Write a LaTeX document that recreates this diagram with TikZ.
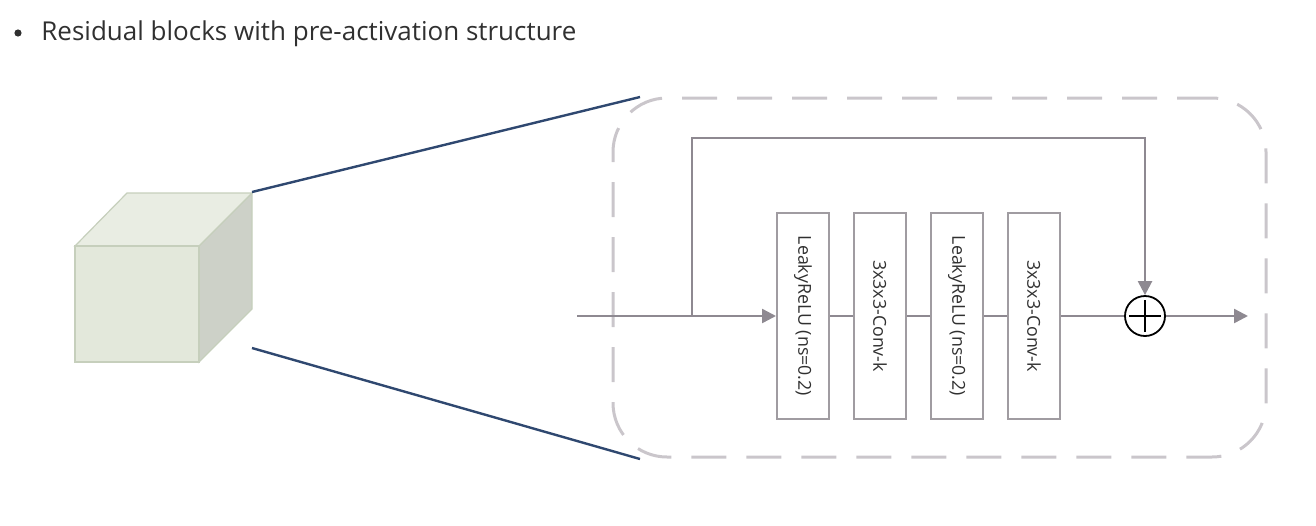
\documentclass[tikz,border=0pt]{standalone}
\usepackage{fontspec}
\usepackage{graphicx}
\setmainfont{Open Sans}
\usetikzlibrary{arrows.meta}
\definecolor{cubefront}{HTML}{E3E8DB}
\definecolor{cubetop}{HTML}{E9EDE3}
\definecolor{cubeside}{HTML}{CDD1C8}
\definecolor{cubeedge}{HTML}{C6CFBC}
\definecolor{zoomnavy}{HTML}{2F4870}
\definecolor{flowgray}{HTML}{8E8991}
\definecolor{framegray}{HTML}{CAC6CB}
\definecolor{blockgray}{HTML}{A09CA1}
\definecolor{textgray}{HTML}{303030}
\begin{document}
\begin{tikzpicture}[x=0.5pt,y=-0.5pt]
    \tikzstyle{block}=[draw=blockgray,line width=1pt,minimum width=26pt,minimum height=103pt,inner sep=0pt,text=textgray,font=\fontsize{8.9}{10}\selectfont]
    \tikzstyle{flow}=[draw=flowgray,line width=1.2pt]
    \tikzstyle{tip}=[-{Triangle[length=7pt,width=7pt]}]
    \tikzstyle{zoomline}=[draw=zoomnavy,line width=1.2pt]
    \useasboundingbox (0,0) rectangle (1316,525);
    % title
    \node[circle,fill=textgray,inner sep=0pt,minimum size=3.6pt] (dot) at (18,33) {};
    \node[anchor=base west,inner sep=0pt,text=textgray,font=\fontsize{13}{15}\selectfont] (title) at (41,40) {Residual blocks with pre-activation structure};
    % cube
    \fill[cubeside,draw=cubeedge,line width=0.6pt] (199,246) -- (252,193) -- (252,309) -- (199,362) -- cycle;
    \fill[cubetop,draw=cubeedge,line width=0.6pt] (75,246) -- (127,193) -- (252,193) -- (199,246) -- cycle;
    \fill[cubefront,draw=cubeedge,line width=0.6pt] (75,246) rectangle (199,362);
    \coordinate (cubeA) at (252,192);
    \coordinate (cubeB) at (252,348);
    % zoomed frame
    \node[draw=framegray,line width=1.5pt,dash pattern=on 17.5pt off 10pt,rounded corners=27pt,minimum width=326.5pt,minimum height=179.5pt] (frame) at (939.5,277.5) {};
    \coordinate (frameA) at (640,97);
    \coordinate (frameB) at (640,459);
    \draw[zoomline] (cubeA) -- (frameA);
    \draw[zoomline] (cubeB) -- (frameB);
    % residual block
    \node[block] (blk1) at (803,316) {\rotatebox{-90}{LeakyReLU (ns=0.2)}};
    \node[block] (blk2) at (880,316) {\rotatebox{-90}{3x3x3-Conv-k}};
    \node[block] (blk3) at (957,316) {\rotatebox{-90}{LeakyReLU (ns=0.2)}};
    \node[block] (blk4) at (1034,316) {\rotatebox{-90}{3x3x3-Conv-k}};
    \node[circle,draw=black,line width=0.9pt,minimum size=20pt,inner sep=0pt] (sum) at (1145,316) {};
    \draw[line width=0.9pt,shorten <=2.5pt,shorten >=2.5pt] (sum.north) -- (sum.south);
    \draw[line width=0.9pt,shorten <=2.5pt,shorten >=2.5pt] (sum.west) -- (sum.east);
    \coordinate (in) at (577,316);
    \coordinate (split) at (692,316);
    \coordinate (out) at (1248,316);
    \draw[flow,tip] (in) -- (blk1.west);
    \draw[flow] (blk1.east) -- (blk2.west);
    \draw[flow] (blk2.east) -- (blk3.west);
    \draw[flow] (blk3.east) -- (blk4.west);
    \draw[flow] (blk4.east) -- (sum.west);
    \draw[flow,tip] (split) -- ++(0,-178) -| (sum.north);
    \draw[flow,tip] (sum.east) -- (out);
\end{tikzpicture}
\end{document}
